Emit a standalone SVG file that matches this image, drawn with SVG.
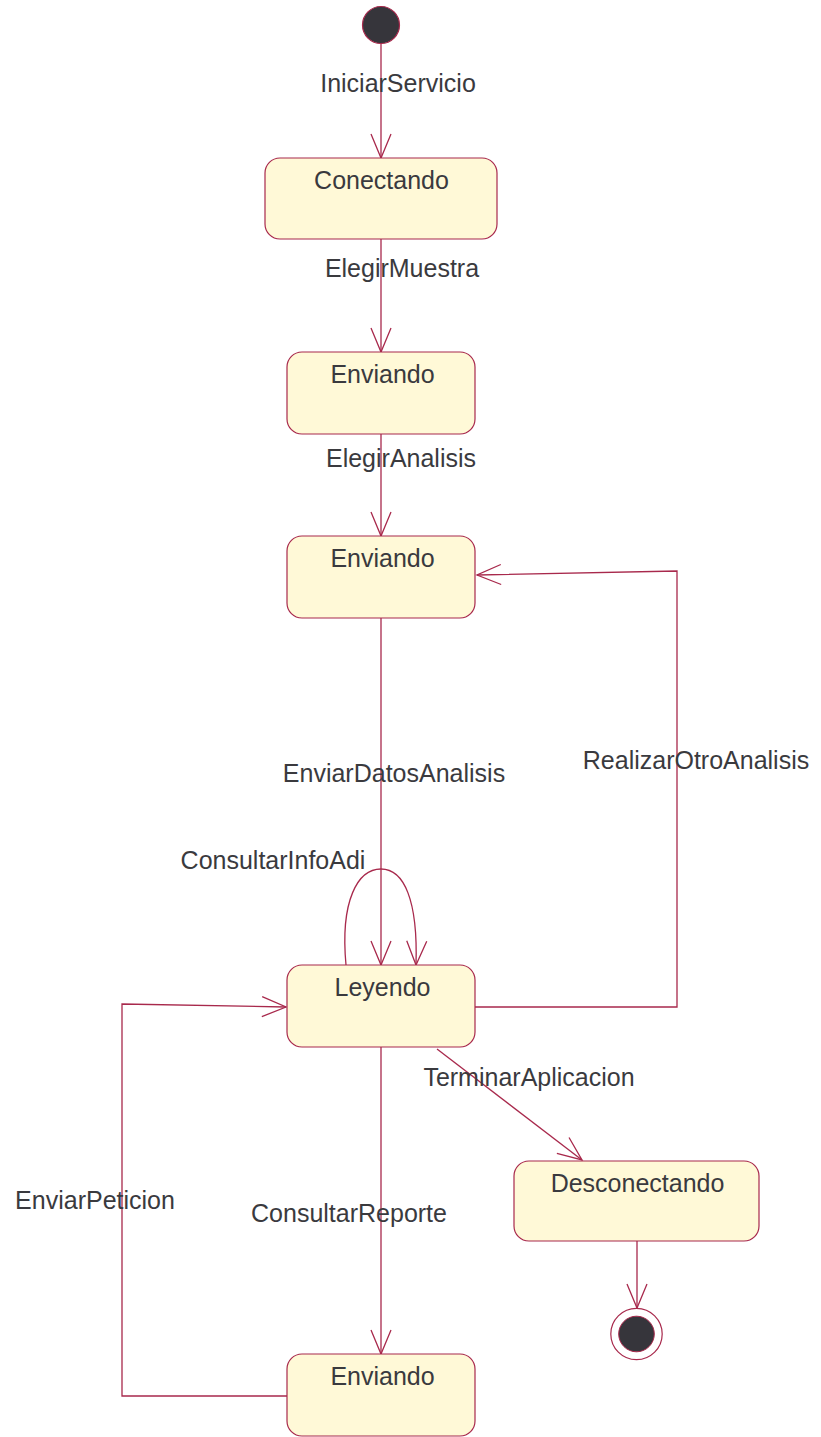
<svg xmlns="http://www.w3.org/2000/svg" width="821" height="1437" viewBox="0 0 821 1437">
<style>
.st{fill:#FFF9D7;stroke:#A8294C;stroke-width:1.2}
.ln{fill:none;stroke:#A8294C;stroke-width:1.3}
text{font-family:"Liberation Sans",Arial,sans-serif;font-size:25px;fill:#3a3a3e;text-anchor:middle}
</style>
<defs>
<marker id="ar" markerUnits="userSpaceOnUse" markerWidth="30" markerHeight="26" viewBox="-26 -12 30 24" refX="0" refY="0" orient="auto">
<path d="M-24,-10 L0,0 L-24,10" fill="none" stroke="#A8294C" stroke-width="1.3"/>
</marker>
</defs>
<g id="connectors">
<line class="ln" x1="381" y1="44" x2="381" y2="158" marker-end="url(#ar)"/>
<line class="ln" x1="381" y1="239" x2="381" y2="352" marker-end="url(#ar)"/>
<line class="ln" x1="381" y1="434" x2="381" y2="536" marker-end="url(#ar)"/>
<line class="ln" x1="381" y1="618" x2="381" y2="965" marker-end="url(#ar)"/>
<path class="ln" d="M346,965 C340,900 358,869 381,869 C404,869 418,900 416,965" marker-end="url(#ar)"/>
<polyline class="ln" points="475,1007 677,1007 677,571 477,575" marker-end="url(#ar)"/>
<line class="ln" x1="437" y1="1049" x2="582" y2="1160" marker-end="url(#ar)"/>
<line class="ln" x1="381" y1="1047" x2="381" y2="1354" marker-end="url(#ar)"/>
<polyline class="ln" points="287,1396 122,1396 122,1004 286,1007" marker-end="url(#ar)"/>
<line class="ln" x1="637" y1="1241" x2="637" y2="1308" marker-end="url(#ar)"/>
<text x="398" y="92">IniciarServicio</text>
<text x="402" y="277">ElegirMuestra</text>
<text x="401" y="467">ElegirAnalisis</text>
<text x="394" y="782">EnviarDatosAnalisis</text>
<text x="696" y="769">RealizarOtroAnalisis</text>
<text x="273" y="869">ConsultarInfoAdi</text>
<text x="529" y="1086">TerminarAplicacion</text>
<text x="95" y="1209">EnviarPeticion</text>
<text x="349" y="1222">ConsultarReporte</text>
</g>
<g id="initial"><circle cx="381" cy="25" r="18.5" fill="#36353B" stroke="#A8294C" stroke-width="1.2"/></g>
<g id="conectando"><rect class="st" x="265" y="158" width="232" height="81" rx="15"/><text x="381.5" y="189">Conectando</text></g>
<g id="enviando1"><rect class="st" x="287" y="352" width="188" height="82" rx="15"/><text x="382.5" y="383">Enviando</text></g>
<g id="enviando2"><rect class="st" x="287" y="536" width="188" height="82" rx="15"/><text x="382.5" y="567">Enviando</text></g>
<g id="leyendo"><rect class="st" x="287" y="965" width="188" height="82" rx="15"/><text x="382.5" y="996">Leyendo</text></g>
<g id="desconectando"><rect class="st" x="514" y="1161" width="245" height="80" rx="15"/><text x="637.5" y="1192">Desconectando</text></g>
<g id="enviando3"><rect class="st" x="287" y="1354" width="188" height="82" rx="15"/><text x="382.5" y="1385">Enviando</text></g>
<g id="final"><circle cx="636.5" cy="1334" r="25.7" fill="#fff" stroke="#A8294C" stroke-width="1.2"/><circle cx="636.5" cy="1334" r="17.8" fill="#36353B" stroke="#A8294C" stroke-width="1"/></g>
</svg>
